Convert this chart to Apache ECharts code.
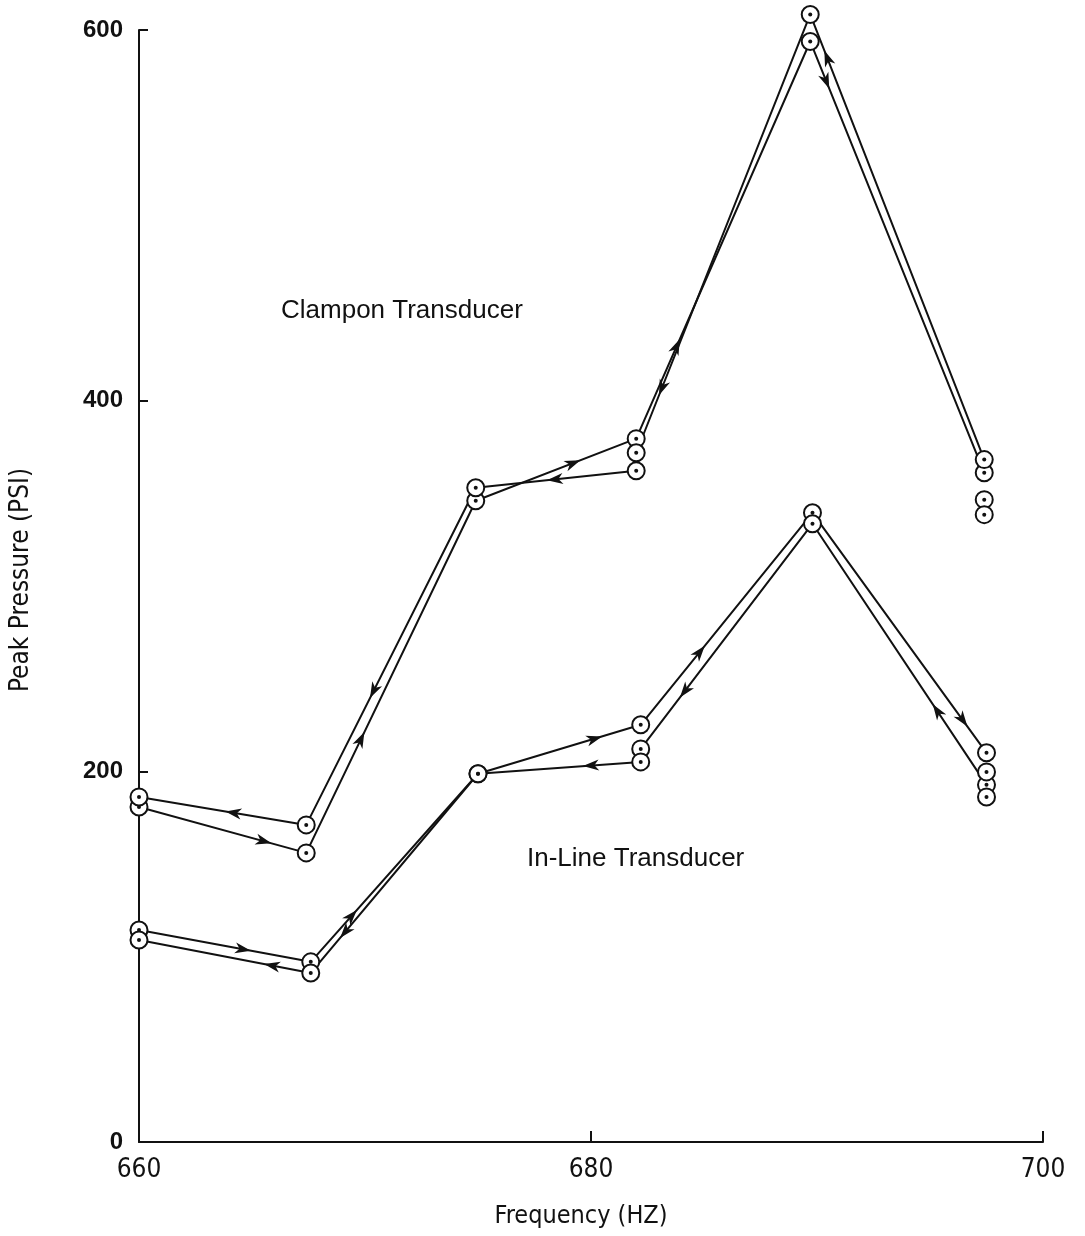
<!DOCTYPE html>
<html>
<head>
<meta charset="utf-8">
<script src="https://cdn.jsdelivr.net/npm/echarts@6/dist/echarts.min.js"></script>
<style>
  html, body { margin: 0; padding: 0; background: #fff; }
  #chart { width: 1085px; height: 1236px; }
</style>
</head>
<body>
<div id="chart"></div>
<script>
// ---- Data ----
const xTicks = [660, 680, 700];
const yTicks = [0, 200, 400, 600];

// Clampon transducer: increasing-frequency sweep
const clamponUpFreq = [660, 667.4, 674.9, 682.0, 689.7, 697.4];
const clamponUpPsi  = [180.8, 156.0, 346.0, 379.5, 593.8, 361.1];
// Clampon transducer: decreasing-frequency sweep
const clamponDownFreq = [697.4, 689.7, 682.0, 682.0, 674.9, 667.4, 660];
const clamponDownPsi  = [368.2, 608.4, 371.9, 362.2, 353.0, 171.1, 186.2];
// Clampon extra readings (no connecting line)
const clamponExtraFreq = [697.4, 697.4];
const clamponExtraPsi  = [346.6, 338.5];

// In-line transducer: increasing-frequency sweep
const inlineUpFreq = [660, 667.6, 675.0, 682.2, 689.8, 697.5];
const inlineUpPsi  = [114.4, 97.2, 198.7, 225.1, 339.5, 210.0];
// In-line transducer: decreasing-frequency sweep
const inlineDownFreq = [697.5, 689.8, 682.2, 682.2, 675.0, 667.6, 660];
const inlineDownPsi  = [192.7, 333.6, 212.1, 205.1, 198.7, 91.2, 109.0];
// In-line extra readings
const inlineExtraFreq = [697.5, 697.5];
const inlineExtraPsi  = [199.7, 186.2];

// ---- Styling: where along each segment the direction arrow sits ----
const clamponUpArrowAt   = [0.74, 0.32, 0.6, 0.23, 0.09];
const clamponDownArrowAt = [0.9, 0.85, null, 0.5, 0.6, 0.43];
const inlineUpArrowAt    = [0.6, 0.24, 0.71, 0.34, 0.86];
const inlineDownArrowAt  = [0.28, 0.74, null, 0.3, 0.79, 0.22];

function pairs(xs, ys) { return xs.map((x, i) => [x, ys[i]]); }
function segments(xs, ys, at) {
  const out = [];
  for (let i = 0; i < xs.length - 1; i++) {
    if (at[i] == null) continue;
    out.push([xs[i], ys[i], xs[i + 1], ys[i + 1], at[i]]);
  }
  return out;
}

const allPoints = [].concat(
  pairs(clamponUpFreq, clamponUpPsi),
  pairs(clamponDownFreq, clamponDownPsi),
  pairs(clamponExtraFreq, clamponExtraPsi),
  pairs(inlineUpFreq, inlineUpPsi),
  pairs(inlineDownFreq, inlineDownPsi),
  pairs(inlineExtraFreq, inlineExtraPsi)
);
const arrowData = [].concat(
  segments(clamponUpFreq, clamponUpPsi, clamponUpArrowAt),
  segments(clamponDownFreq, clamponDownPsi, clamponDownArrowAt),
  segments(inlineUpFreq, inlineUpPsi, inlineUpArrowAt),
  segments(inlineDownFreq, inlineDownPsi, inlineDownArrowAt)
);

const lineStyle = { color: '#111', width: 2 };
function lineSeries(name, xs, ys) {
  return {
    name, type: 'line', data: pairs(xs, ys), showSymbol: false, clip: false,
    lineStyle, animation: false, z: 2, silent: true
  };
}

const chart = echarts.init(document.getElementById('chart'), null, { renderer: 'canvas' });
const fontNarrow = '"Liberation Sans Narrow", "DejaVu Sans Condensed", "Liberation Sans", sans-serif';

chart.setOption({
  animation: false,
  backgroundColor: '#fff',
  grid: { left: 137, right: 42, top: 30, bottom: 94, containLabel: false },
  xAxis: {
    type: 'value', min: 660, max: 700, interval: 20,
    name: 'Frequency (HZ)', nameLocation: 'middle', nameGap: 62,
    nameTextStyle: { fontFamily: fontNarrow, fontSize: 25, color: '#111', padding: [0, 20, 0, 0] },
    axisLine: { show: true, lineStyle: { color: '#111', width: 2 } },
    axisTick: { show: true, inside: true, length: 11, lineStyle: { color: '#111', width: 2 } },
    axisLabel: {
      margin: 15, color: '#111', fontFamily: fontNarrow, fontSize: 26,
      formatter: v => xTicks.includes(v) ? String(v) : ''
    },
    splitLine: { show: false }
  },
  yAxis: {
    type: 'value', min: 0, max: 600, interval: 200,
    name: 'Peak Pressure (PSI)', nameLocation: 'middle', nameGap: 105, nameRotate: 90,
    nameTextStyle: { fontFamily: fontNarrow, fontSize: 26, color: '#111', padding: [0, 0, 0, 12] },
    axisLine: { show: true, lineStyle: { color: '#111', width: 2 } },
    axisTick: { show: true, inside: true, length: 9, lineStyle: { color: '#111', width: 2 } },
    axisLabel: {
      margin: 16, color: '#111', fontFamily: '"Liberation Sans", Arial, sans-serif',
      fontWeight: 'bold', fontSize: 24,
      formatter: v => yTicks.includes(v) ? String(v) : ''
    },
    splitLine: { show: false }
  },
  graphic: [
    { type: 'text', left: 281, top: 298, style: { text: 'Clampon Transducer', fill: '#111', font: '26px "Liberation Sans", Arial, sans-serif' } },
    { type: 'text', left: 527, top: 846, style: { text: 'In-Line Transducer', fill: '#111', font: '26px "Liberation Sans", Arial, sans-serif' } }
  ],
  series: [
    lineSeries('Clampon up', clamponUpFreq, clamponUpPsi),
    lineSeries('Clampon down', clamponDownFreq, clamponDownPsi),
    lineSeries('In-Line up', inlineUpFreq, inlineUpPsi),
    lineSeries('In-Line down', inlineDownFreq, inlineDownPsi),
    {
      name: 'arrows', type: 'custom', data: arrowData, z: 3, silent: true, clip: false,
      encode: { x: [0, 2], y: [1, 3] },
      renderItem: function (params, api) {
        const p1 = api.coord([api.value(0), api.value(1)]);
        const p2 = api.coord([api.value(2), api.value(3)]);
        const f = api.value(4);
        const px = p1[0] + (p2[0] - p1[0]) * f;
        const py = p1[1] + (p2[1] - p1[1]) * f;
        const len = Math.hypot(p2[0] - p1[0], p2[1] - p1[1]) || 1;
        const dx = (p2[0] - p1[0]) / len, dy = (p2[1] - p1[1]) / len;
        const nx = -dy, ny = dx;
        const tip = [px + dx * 9, py + dy * 9];
        const w1 = [px - dx * 7 + nx * 5.5, py - dy * 7 + ny * 5.5];
        const notch = [px - dx * 2.5, py - dy * 2.5];
        const w2 = [px - dx * 7 - nx * 5.5, py - dy * 7 - ny * 5.5];
        return { type: 'polygon', shape: { points: [tip, w1, notch, w2] }, style: { fill: '#111' } };
      }
    },
    {
      name: 'points', type: 'scatter', data: allPoints, symbol: 'circle', symbolSize: 17, clip: false,
      itemStyle: { color: '#fff', borderColor: '#111', borderWidth: 2, opacity: 1 }, z: 4, silent: true
    },
    {
      name: 'dots', type: 'scatter', data: allPoints, symbol: 'circle', symbolSize: 4, clip: false,
      itemStyle: { color: '#111', opacity: 1 }, z: 5, silent: true
    }
  ]
});
</script>
</body>
</html>
